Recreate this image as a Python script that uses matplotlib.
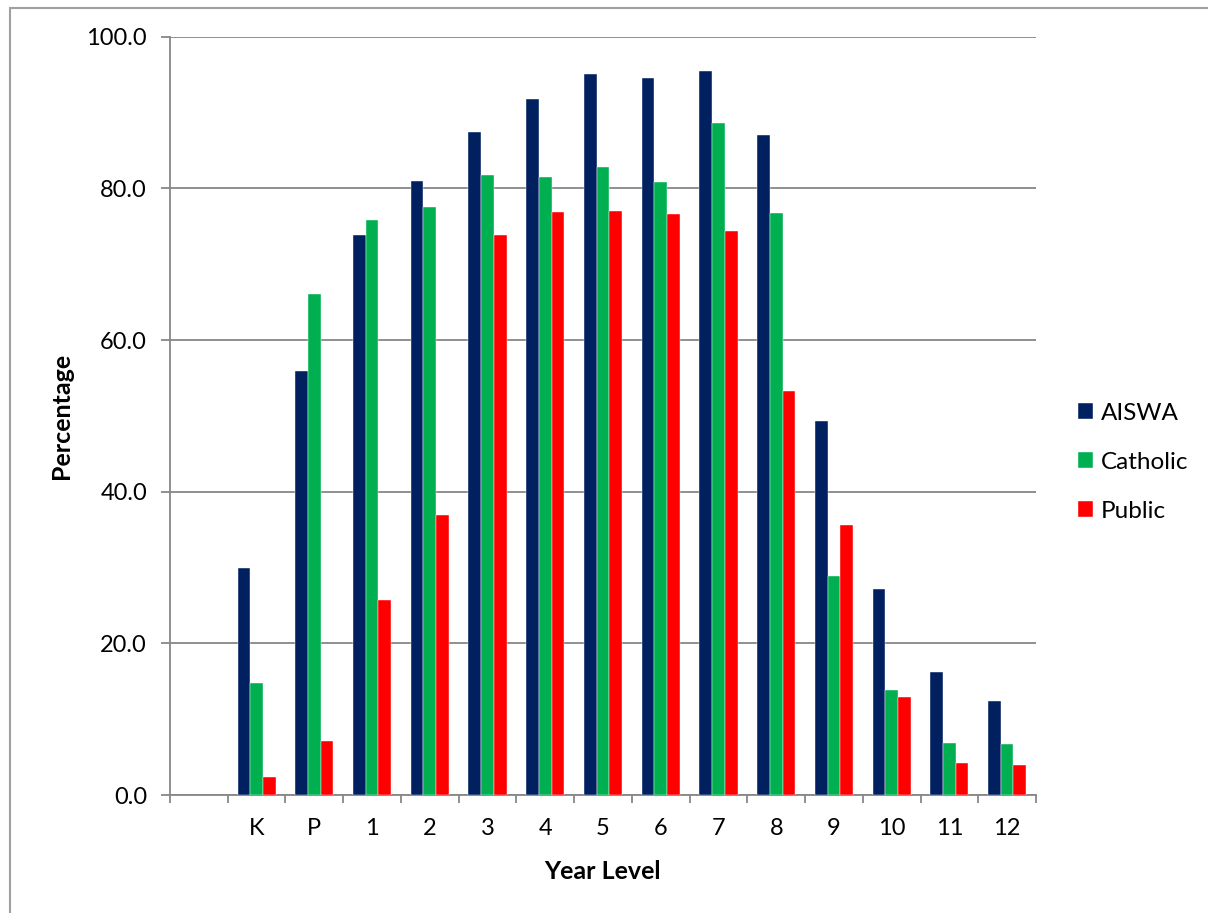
import numpy as np
import matplotlib.pyplot as plt
from matplotlib.patches import Rectangle

# Kategorien (erste Kategorie leer wie im Original)
year_levels = ["", "K", "P", "1", "2", "3", "4", "5", "6", "7", "8", "9", "10", "11", "12"]

aiswa = [np.nan, 30.0, 55.9, 73.9, 81.0, 87.4, 91.8, 95.1, 94.5, 95.5, 87.0, 49.3, 27.2, 16.2, 12.4]
catholic = [np.nan, 14.8, 66.1, 75.8, 77.5, 81.7, 81.5, 82.8, 80.9, 88.6, 76.7, 28.9, 13.8, 6.9, 6.7]
public = [np.nan, 2.4, 7.1, 25.7, 36.9, 73.8, 76.9, 77.0, 76.6, 74.4, 53.3, 35.6, 12.9, 4.2, 3.9]

series_names = ["AISWA", "Catholic", "Public"]
series_colors = ["#002060", "#00B050", "#FF0000"]

plt.rcParams['font.family'] = ['Lato', 'DejaVu Sans']

W, H = 1208, 913
fig = plt.figure(figsize=(W / 100, H / 100), dpi=100)
ax = fig.add_axes([170 / W, 1 - 795 / H, (1036 - 170) / W, (795 - 36.7) / H])

x = np.arange(len(year_levels))
bw = 0.22
for i, (vals, name, col) in enumerate(zip([aiswa, catholic, public], series_names, series_colors)):
    ax.bar(x + (i - 1) * bw, vals, width=bw, color=col, label=name,
           edgecolor="white", linewidth=0.3, zorder=3)

grid_col = "#878787"
ax.set_ylim(0, 100)
ax.set_xlim(-0.5, len(year_levels) - 0.5)
ax.set_yticks(np.arange(0, 101, 20))
ax.set_yticklabels([f"{v:.1f}" for v in np.arange(0, 101, 20)])
ax.yaxis.grid(True, color=grid_col, linewidth=1.3, zorder=0)
ax.set_axisbelow(True)

ax.set_xticks(x)
ax.set_xticklabels(year_levels)
ax.set_xticks(np.arange(-0.5, len(year_levels)), minor=True)
ax.tick_params(axis="x", which="major", length=0, pad=16.5, labelsize=17)
ax.tick_params(axis="x", which="minor", length=6, width=1.3, color=grid_col, direction="out")
ax.tick_params(axis="y", length=6.5, width=1.3, color=grid_col, pad=10, labelsize=17)

for s in ["top", "right"]:
    ax.spines[s].set_visible(False)
for s in ["left", "bottom"]:
    ax.spines[s].set_color(grid_col)
    ax.spines[s].set_linewidth(1.3)

ax.set_ylabel("Percentage", fontsize=18, fontweight="bold", labelpad=10)
ax.set_xlabel("Year Level", fontsize=18, fontweight="bold", labelpad=15)

ax.legend(loc="center left", bbox_to_anchor=(1.048, 0.439), frameon=False,
          fontsize=17.5, handlelength=0.62, handleheight=0.62, handletextpad=0.35,
          labelspacing=1.15, borderpad=0, borderaxespad=0)

# Rahmen um das Diagramm
fig.patches.append(Rectangle((10 / W, -0.1), 2, 1.1 - 8 / H, transform=fig.transFigure,
                             fill=False, edgecolor="#A0A0A0", linewidth=1.5))

fig.savefig("out.png", dpi=100)
